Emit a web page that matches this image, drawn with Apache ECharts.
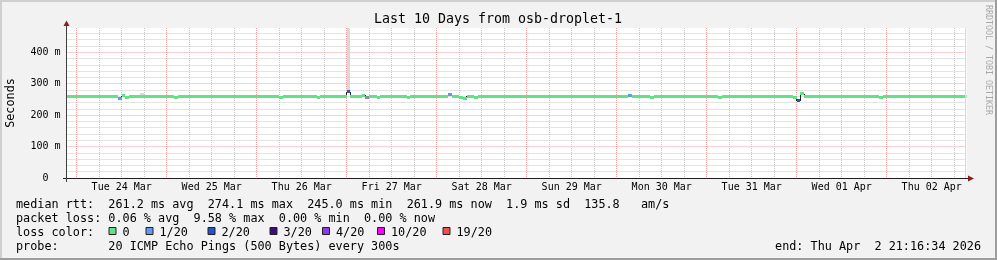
<!DOCTYPE html>
<html><head><meta charset="utf-8">
<script src="https://cdn.jsdelivr.net/npm/echarts@6/dist/echarts.min.js"></script>
<style>html,body{margin:0;padding:0;background:#f2f2f2;}#c{width:997px;height:260px;}</style>
</head><body><div id="c"></div>
<script>
// ---------------- data ----------------
const titleText = 'Last 10 Days from osb-droplet-1';
const endText = 'end: Thu Apr  2 21:16:34 2026';
// hours are counted from Tue 24 Mar 00:00 (local)
const endHour = 237.2761;            // Thu 02 Apr 21:16:34
const spanHours = 240;               // 10 days
const dayLabels = ['Tue 24 Mar','Wed 25 Mar','Thu 26 Mar','Fri 27 Mar','Sat 28 Mar','Sun 29 Mar','Mon 30 Mar','Tue 31 Mar','Wed 01 Apr','Thu 02 Apr'];
const yMajorTicks = [0, 100, 200, 300, 400];
const yMinorTicks = [20, 40, 60, 80, 120, 140, 160, 180, 220, 240, 260, 280, 320, 340, 360, 380, 420, 440, 460];
const yMax = 477;
// hourly median RTT (ms), first value is the hour starting at firstHour
const firstHour = -3;
const medianMs = [
  258,258,258,
  258,258,258,258,260,260,260,260,260,260,260,253,261,255,258,258,258,260,260,260,260,260,260,260,
  260,260,257,260,260,260,260,260,260,260,260,260,260,260,260,260,260,260,260,260,260,260,260,260,
  260,260,260,260,260,260,255,260,260,260,260,260,260,260,260,260,255,260,260,260,260,260,260,260,
  274,260,260,260,263,255,260,260,257,260,260,260,260,260,260,260,255,260,260,260,260,260,260,260,
  260,260,260,264,260,260,256,254,260,260,255,260,260,260,260,260,260,260,260,260,260,260,260,260,
  260,260,260,260,260,260,260,260,260,260,260,260,260,260,260,260,260,260,260,260,260,260,260,260,
  260,260,260,262,260,260,260,260,260,255,260,260,260,260,260,260,260,260,260,260,260,260,260,260,
  260,260,260,255,260,260,260,260,260,260,260,260,260,260,260,260,260,260,260,260,260,260,260,257,
  245,268,260,260,260,260,260,260,260,260,260,260,260,260,258,260,258,260,260,258,258,260,255,260,
  260,260,260,260,260,260,260,260,260,260,260,260,260,260,260,260,260,260,260,260,260,260
];
// hourly loss level (index into lossColors, -1 = grey)
const lossLevel = [
  0,0,0,
  0,0,0,0,0,0,0,0,0,0,0,1,0,0,0,0,0,0,0,0,0,0,0,0,
  0,0,0,0,0,0,0,0,0,0,0,0,0,0,0,0,0,0,0,0,0,0,0,0,
  0,0,0,0,0,0,0,0,0,0,0,0,0,0,0,0,0,0,0,0,0,0,0,0,
  2,0,0,0,0,-1,0,0,0,0,0,0,0,0,0,0,0,0,0,0,0,0,0,0,
  0,0,0,1,0,0,0,0,0,0,0,0,0,0,0,0,0,0,0,0,0,0,0,0,
  0,0,0,0,0,0,0,0,0,0,0,0,0,0,0,0,0,0,0,0,0,0,0,0,
  0,0,0,1,0,0,0,0,0,0,0,0,0,0,0,0,0,0,0,0,0,0,0,0,
  0,0,0,0,0,0,0,0,0,0,0,0,0,0,0,0,0,0,0,0,0,0,0,0,
  2,0,0,0,0,0,0,0,0,0,0,0,0,0,0,0,0,0,0,0,0,0,0,0,
  0,0,0,0,0,0,0,0,0,0,0,0,0,0,0,0,0,0,0,0,0,0
];
// visible smoke (upper ping spread) above the median
const smokeHours = [9, 17, 72, 142, 182, 184, 219, 229];
const smokeTopMs = [265, 270, 480, 265, 265, 265, 265, 265];
const lossLabels = ['0', '1/20', '2/20', '3/20', '4/20', '10/20', '19/20'];
const lossColors = ['#62e186', '#6497ee', '#2455cc', '#3e0a80', '#8c3aed', '#ff00ff', '#ee5050'];
const statsLines = [
  'median rtt:  261.2 ms avg  274.1 ms max  245.0 ms min  261.9 ms now  1.9 ms sd  135.8   am/s',
  'packet loss: 0.06 % avg  9.58 % max  0.00 % min  0.00 % now'
];
const probeLine = 'probe:       20 ICMP Echo Pings (500 Bytes) every 300s';

// ---------------- layout / style ----------------
const MONO = "'DejaVu Sans Mono', monospace";
const LF = `11.8px ${MONO}`;
const GL = 66.5, GT = 28, GW = 900, GH = 150;
const gridGrey = '#c9c9c9', gridRed = '#f7a0a0';
const lossBoxX = [108.5, 145.5, 207.5, 269.5, 322, 377, 442.5];

const xMin = endHour - spanHours, xMax = endHour;
const midnights = dayLabels.map((_, i) => i * 24);
const noons = dayLabels.map((_, i) => i * 24 + 12);
const quarterMarks = [];
for (let d = -1; d < dayLabels.length; d++) {
  [6, 12, 18].forEach(q => { const h = d * 24 + q; if (h > xMin && h < xMax) quarterMarks.push(h); });
}

const bandData = medianMs.map((v, i) => [firstHour + i, v, lossLevel[i]]);
const stepData = medianMs.map((v, i) => [firstHour + i, v, i > 0 ? medianMs[i - 1] : v]);
const smokeData = smokeHours.map((h, i) => [h, smokeTopMs[i], medianMs[h - firstHour]]);

function clipTo(params, r) {
  return echarts.graphic.clipRectByRect(r, {
    x: params.coordSys.x, y: params.coordSys.y,
    width: params.coordSys.width, height: params.coordSys.height
  });
}

const chart = echarts.init(document.getElementById('c'), null, {renderer: 'canvas'});

const g = [];
// frame
g.push({type: 'rect', shape: {x: 0, y: 0, width: 997, height: 2}, style: {fill: '#cfcfcf'}, silent: true});
g.push({type: 'rect', shape: {x: 0, y: 0, width: 2, height: 260}, style: {fill: '#cfcfcf'}, silent: true});
g.push({type: 'rect', shape: {x: 0, y: 258, width: 997, height: 2}, style: {fill: '#9e9e9e'}, silent: true});
g.push({type: 'rect', shape: {x: 995, y: 0, width: 2, height: 260}, style: {fill: '#9e9e9e'}, silent: true});
// title
g.push({type: 'text', x: 498, y: 19.5, style: {text: titleText, font: `13.3px ${MONO}`, fill: '#000', align: 'center', verticalAlign: 'middle'}});
// credit
g.push({type: 'text', x: 988, y: 60, rotation: -Math.PI / 2, style: {text: 'RRDTOOL / TOBI OETIKER', font: `8.3px ${MONO}`, fill: '#a9a9a9', align: 'center', verticalAlign: 'middle'}});
// y axis title
g.push({type: 'text', x: 11, y: 103, rotation: Math.PI / 2, style: {text: 'Seconds', font: LF, fill: '#000', align: 'center', verticalAlign: 'middle'}});
// right edge line
g.push({type: 'line', shape: {x1: 965.5, y1: GT, x2: 965.5, y2: GT + GH}, style: {stroke: '#dadada', lineWidth: 1}, z: 5});
// axes and arrows
g.push({type: 'line', shape: {x1: 63, y1: 178.5, x2: 969, y2: 178.5}, style: {stroke: '#202020', lineWidth: 1}, z: 10});
g.push({type: 'line', shape: {x1: 66.5, y1: 182, x2: 66.5, y2: 24}, style: {stroke: '#404040', lineWidth: 1}, z: 10});
g.push({type: 'polygon', shape: {points: [[968, 175.5], [974, 178.5], [968, 181.5]]}, style: {fill: '#8e1c1c'}, z: 10});
g.push({type: 'polygon', shape: {points: [[63.5, 26], [66.5, 20.5], [69.5, 26]]}, style: {fill: '#8e1c1c'}, z: 10});
// stats
statsLines.forEach((t, i) => g.push({type: 'text', x: 16, y: 204.5 + i * 14, style: {text: t, font: LF, fill: '#000', align: 'left', verticalAlign: 'middle'}}));
g.push({type: 'text', x: 16, y: 232.5, style: {text: 'loss color:', font: LF, fill: '#000', align: 'left', verticalAlign: 'middle'}});
lossLabels.forEach((t, i) => {
  g.push({type: 'rect', shape: {x: lossBoxX[i] + 0.5, y: 227.5, width: 7, height: 7}, style: {fill: lossColors[i], stroke: '#222', lineWidth: 1}});
  g.push({type: 'text', x: lossBoxX[i] + 14, y: 232.5, style: {text: t, font: LF, fill: '#000', align: 'left', verticalAlign: 'middle'}});
});
g.push({type: 'text', x: 16, y: 246.5, style: {text: probeLine, font: LF, fill: '#000', align: 'left', verticalAlign: 'middle'}});
g.push({type: 'text', x: 981, y: 246.5, style: {text: endText, font: LF, fill: '#000', align: 'right', verticalAlign: 'middle'}});

const noAxis = {show: false};
const option = {
  animation: false,
  backgroundColor: '#f2f2f2',
  grid: {left: GL, top: GT, width: GW, height: GH, show: true, backgroundColor: '#ffffff', borderWidth: 0},
  xAxis: [
    {type: 'value', min: xMin, max: xMax, position: 'bottom', axisLine: noAxis, axisLabel: noAxis,
     axisTick: {show: false, customValues: quarterMarks},
     splitLine: {show: true, lineStyle: {color: gridGrey, type: [1, 1], width: 1}}},
    {type: 'value', min: xMin, max: xMax, position: 'top', axisLine: noAxis, axisLabel: noAxis,
     axisTick: {show: false, customValues: midnights},
     splitLine: {show: true, lineStyle: {color: gridRed, type: [1, 1], width: 1}}},
    {type: 'value', min: xMin, max: xMax, position: 'bottom', axisLine: {show: false, onZero: false},
     axisTick: {show: false, customValues: noons},
     axisLabel: {show: true, customValues: noons, margin: 4, fontFamily: MONO, fontSize: 10, color: '#000',
                 formatter: v => dayLabels[Math.round((v - 12) / 24)]},
     splitLine: noAxis}
  ],
  yAxis: [
    {type: 'value', min: 0, max: yMax, position: 'right', axisLine: noAxis, axisLabel: noAxis,
     axisTick: {show: false, customValues: yMinorTicks},
     splitLine: {show: true, lineStyle: {color: gridGrey, type: [1, 1], width: 1}}},
    {type: 'value', min: 0, max: yMax, position: 'left', axisLine: {show: false, onZero: false},
     axisTick: {show: false, customValues: yMajorTicks},
     axisLabel: {show: true, customValues: yMajorTicks, margin: 6, fontFamily: MONO, fontSize: 10, color: '#000',
                 formatter: v => v === 0 ? '0  ' : v + ' m'},
     splitLine: {show: true, lineStyle: {color: gridRed, type: [1, 1], width: 1}}}
  ],
  series: [
    {type: 'custom', name: 'smoke', xAxisIndex: 0, yAxisIndex: 0, z: 2, silent: true, data: smokeData,
     renderItem: (params, api) => {
       const h = api.value(0);
       const a = api.coord([h, api.value(1)]), b = api.coord([h + 1, api.value(2)]);
       const r = clipTo(params, {x: Math.round(a[0]), y: Math.round(a[1]), width: Math.round(b[0]) - Math.round(a[0]), height: b[1] - a[1]});
       return r && {type: 'rect', shape: r, style: {fill: '#d9d9d9'}};
     }},
    {type: 'custom', name: 'median line', xAxisIndex: 0, yAxisIndex: 0, z: 3, silent: true, data: stepData,
     renderItem: (params, api) => {
       const h = api.value(0), v = api.value(1), pv = api.value(2);
       if (v === pv) return null;
       const a = api.coord([h, pv]), b = api.coord([h, v]);
       if (a[0] < params.coordSys.x) return null;
       const x = Math.floor(a[0]) + 0.5;
       return {type: 'line', shape: {x1: x, y1: Math.round(a[1]), x2: x, y2: Math.round(b[1])}, style: {stroke: '#202020', lineWidth: 1}};
     }},
    {type: 'custom', name: 'median', xAxisIndex: 0, yAxisIndex: 0, z: 4, silent: true, data: bandData,
     renderItem: (params, api) => {
       const h = api.value(0), v = api.value(1), lv = api.value(2);
       const a = api.coord([h, v]), b = api.coord([h + 1, v]);
       const x0 = Math.round(a[0]), x1 = Math.round(b[0]);
       const r = clipTo(params, {x: x0, y: Math.round(a[1] - 1.5), width: x1 - x0, height: 3});
       return r && {type: 'rect', shape: r, style: {fill: lv < 0 ? '#8f8f8f' : lossColors[lv]}};
     }}
  ],
  graphic: {elements: g}
};
chart.setOption(option);
</script></body></html>
